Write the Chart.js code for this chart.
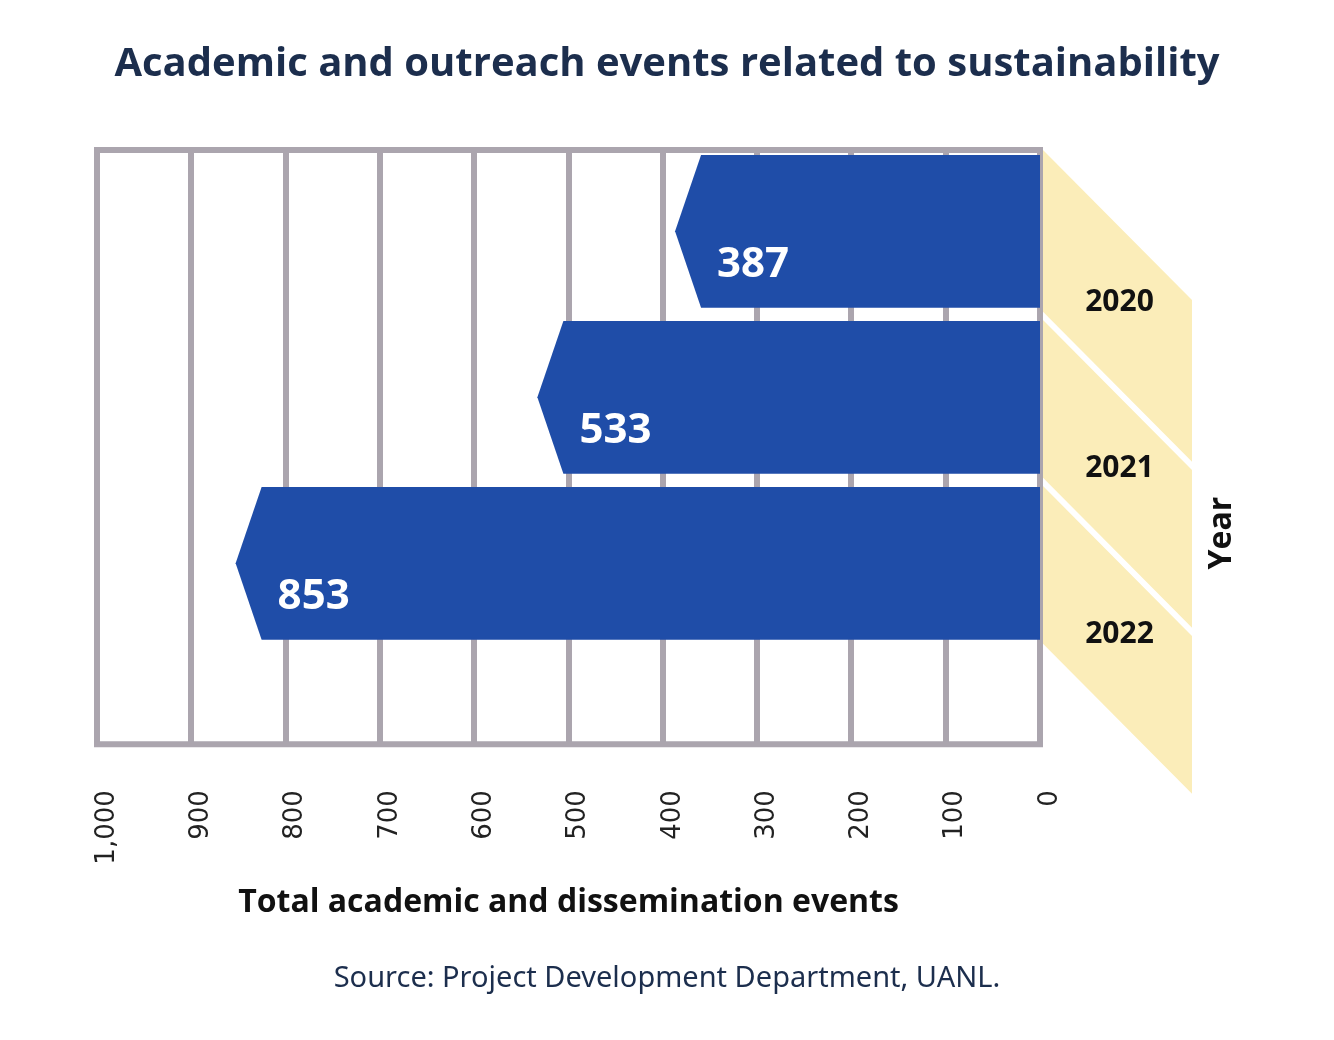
<!DOCTYPE html>
<html><head><meta charset="utf-8">
<script src="https://cdn.jsdelivr.net/npm/chart.js@4.4.1/dist/chart.umd.min.js"></script>
<style>html,body{margin:0;padding:0;background:#fff}#wrap{width:1334px;height:1040px;position:relative}</style>
</head><body><div id="wrap"><canvas id="c"></canvas></div>
<script>
// ---- data ----
const years = ['2020', '2021', '2022'];
const events = [387, 533, 853];
const xTickValues = [0, 100, 200, 300, 400, 500, 600, 700, 800, 900, 1000];
const chartTitle = 'Academic and outreach events related to sustainability';
const xAxisTitle = 'Total academic and dissemination events';
const yAxisTitle = 'Year';
const sourceNote = 'Source: Project Development Department, UANL.';

// ---- styles ----
const NAVY = '#1c2e4d';
const BAR = '#1f4da8';
const GRID = '#aba5ae';
const RIBBON = '#fbedb9';

const shapes = {
  id: 'shapes',
  beforeDatasetsDraw(chart) {
    const {ctx, chartArea: a} = chart;
    ctx.save();
    ctx.strokeStyle = GRID;
    ctx.lineWidth = 6;
    ctx.beginPath();
    ctx.moveTo(a.left - 3, a.top); ctx.lineTo(a.right + 3, a.top);
    ctx.moveTo(a.left - 3, a.bottom); ctx.lineTo(a.right + 3, a.bottom);
    ctx.stroke();
    ctx.restore();
  },
  afterDatasetsDraw(chart) {
    const {ctx, chartArea: a} = chart;
    const meta = chart.getDatasetMeta(0);
    ctx.save();
    meta.data.forEach((el, i) => {
      const top = el.y - el.height / 2, bot = el.y + el.height / 2;
      // ribbon
      const rl = a.right + 3, rw = 149, drop = 150;
      const rt = (i === 0 ? a.top : top - 1), rb = bot + 4;
      ctx.fillStyle = RIBBON;
      ctx.beginPath();
      ctx.moveTo(rl, rt); ctx.lineTo(rl + rw, rt + drop);
      ctx.lineTo(rl + rw, rb + drop); ctx.lineTo(rl, rb);
      ctx.closePath(); ctx.fill();
      // arrow bar
      const base = el.base + 3, tip = el.x, notch = 26;
      ctx.fillStyle = BAR;
      ctx.beginPath();
      ctx.moveTo(base, top); ctx.lineTo(tip + notch, top);
      ctx.lineTo(tip, el.y); ctx.lineTo(tip + notch, bot);
      ctx.lineTo(base, bot); ctx.closePath(); ctx.fill();
      // value label
      ctx.fillStyle = '#ffffff';
      ctx.font = 'bold 42px "Open Sans"';
      ctx.textAlign = 'left'; ctx.textBaseline = 'middle';
      ctx.fillText(String(events[i]), tip + 42, el.y + 34);
      // year label
      ctx.fillStyle = '#111111';
      ctx.font = 'bold 30px "Open Sans"';
      ctx.textAlign = 'center';
      ctx.fillText(years[i], rl + rw / 2 + 2, el.y + 71);
    });
    // Year axis title
    ctx.translate(a.right + 182, (a.top + a.bottom) / 2 + 86);
    ctx.rotate(-Math.PI / 2);
    ctx.fillStyle = '#111111';
    ctx.font = 'bold 32px "Open Sans"';
    ctx.textAlign = 'center'; ctx.textBaseline = 'middle';
    ctx.fillText(yAxisTitle, 0, 0);
    ctx.restore();
  }
};

new Chart(document.getElementById('c'), {
  type: 'bar',
  data: {
    labels: years,
    datasets: [{
      label: xAxisTitle,
      data: events.map((v, i) => ({x: v, y: i})),
      backgroundColor: 'rgba(0,0,0,0)',
      borderWidth: 0,
      barPercentage: 0.92,
      categoryPercentage: 1
    }]
  },
  options: {
    indexAxis: 'y',
    responsive: true,
    maintainAspectRatio: false,
    animation: false,
    layout: {padding: 0},
    plugins: {
      legend: {display: false},
      tooltip: {enabled: false},
      title: {
        display: true, text: chartTitle, color: NAVY,
        font: {family: '"Open Sans"', size: 40, weight: 'bold'},
        padding: {top: 41, bottom: 61}
      },
      subtitle: {
        display: true, text: sourceNote, position: 'bottom', color: NAVY,
        font: {family: '"Noto Sans"', size: 29, weight: 'normal'},
        padding: {top: 10, bottom: 44}
      }
    },
    scales: {
      x: {
        type: 'linear', reverse: true, min: 0, max: 1000,
        afterBuildTicks: s => { s.ticks = xTickValues.map(v => ({value: v})); },
        afterFit: s => { s.height = 207; },
        ticks: {
          minRotation: 90, maxRotation: 90, padding: 46, labelOffset: 10,
          color: '#222222', font: {family: '"DejaVu Sans"', size: 26},
          callback: v => v.toLocaleString('en-US')
        },
        grid: {color: GRID, lineWidth: 6, drawTicks: false},
        border: {display: false},
        title: {
          display: true, text: xAxisTitle, color: '#111111',
          font: {family: '"Open Sans"', size: 32, weight: 'bold'},
          padding: {top: 20, bottom: 29}
        }
      },
      y: {
        type: 'linear', reverse: true, min: -0.49, max: 3.09,
        position: 'left', offset: false,
        afterBuildTicks: s => { s.ticks = years.map((y, i) => ({value: i})); },
        ticks: {display: false}, grid: {display: false, offset: false}, border: {display: false},
        afterFit: s => { s.width = 97; }
      },
      yr: {
        type: 'linear', position: 'right', min: 0, max: 1,
        ticks: {display: false}, grid: {display: false}, border: {display: false},
        afterFit: s => { s.width = 294; }
      }
    }
  },
  plugins: [shapes]
});
</script></body></html>
